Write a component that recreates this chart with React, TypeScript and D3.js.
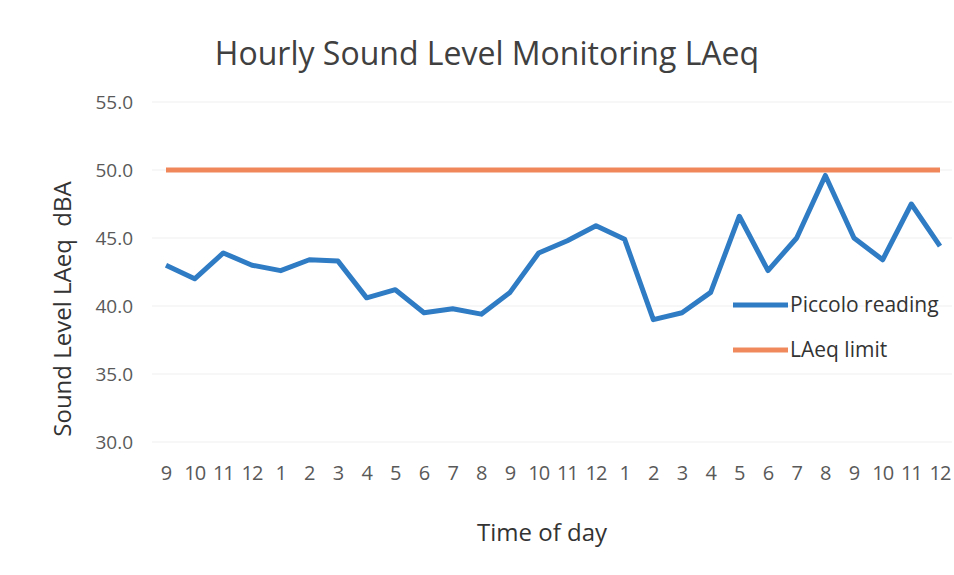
import React, { useRef, useEffect } from 'react';
import * as d3 from 'd3';

const hours = ['9', '10', '11', '12', '1', '2', '3', '4', '5', '6', '7', '8', '9', '10', '11', '12', '1', '2', '3', '4', '5', '6', '7', '8', '9', '10', '11', '12'];
const piccolo = [43.0, 42.0, 43.9, 43.0, 42.6, 43.4, 43.3, 40.6, 41.2, 39.5, 39.8, 39.4, 41.0, 43.9, 44.8, 45.9, 44.9, 39.0, 39.5, 41.0, 46.6, 42.6, 45.0, 49.6, 45.0, 43.4, 47.5, 44.4];
const limit = hours.map(() => 50);
const yTicks = [30, 35, 40, 45, 50, 55];

const W = 954;
const H = 575;

const App: React.FC = () => {
  const svgRef = useRef<SVGSVGElement | null>(null);

  useEffect(() => {
    const svg = d3.select(svgRef.current);
    svg.selectAll('*').remove();
    const font = '"Open Sans", sans-serif';

    const x = d3.scalePoint<number>()
      .domain(hours.map((_, i) => i))
      .range([166, 940]);
    const y = d3.scaleLinear().domain([30, 55]).range([442, 102]);

    // grid
    svg.append('g')
      .selectAll('line')
      .data(yTicks)
      .enter()
      .append('line')
      .attr('x1', 152)
      .attr('x2', 952)
      .attr('y1', d => y(d))
      .attr('y2', d => y(d))
      .attr('stroke', '#efefef')
      .attr('stroke-width', 1);

    // y labels
    svg.append('g')
      .selectAll('text')
      .data(yTicks)
      .enter()
      .append('text')
      .attr('x', 133)
      .attr('y', d => y(d))
      .attr('dy', '0.35em')
      .attr('text-anchor', 'end')
      .attr('font-family', font)
      .attr('font-size', 19)
      .attr('fill', '#595959')
      .text(d => d.toFixed(1));

    // x labels
    svg.append('g')
      .selectAll('text')
      .data(hours)
      .enter()
      .append('text')
      .attr('x', (_, i) => x(i)!)
      .attr('y', 473)
      .attr('dy', '0.35em')
      .attr('text-anchor', 'middle')
      .attr('font-family', font)
      .attr('font-size', 20)
      .attr('letter-spacing', -1)
      .attr('fill', '#595959')
      .text(d => d);

    const line = d3.line<number>()
      .x((_, i) => x(i)!)
      .y(d => y(d));

    svg.append('path')
      .datum(limit)
      .attr('d', line)
      .attr('fill', 'none')
      .attr('stroke', '#f0875a')
      .attr('stroke-width', 5);

    svg.append('path')
      .datum(piccolo)
      .attr('d', line)
      .attr('fill', 'none')
      .attr('stroke', '#2f7bc4')
      .attr('stroke-width', 5)
      .attr('stroke-linejoin', 'round');

    // legend
    const legend = [
      { name: 'Piccolo reading', color: '#2f7bc4', y: 305 },
      { name: 'LAeq limit', color: '#f08a5d', y: 350 },
    ];
    const lg = svg.append('g');
    legend.forEach(l => {
      lg.append('line')
        .attr('x1', 733).attr('x2', 788)
        .attr('y1', l.y).attr('y2', l.y)
        .attr('stroke', l.color)
        .attr('stroke-width', 5);
      lg.append('text')
        .attr('x', 790)
        .attr('y', l.y)
        .attr('dy', '0.35em')
        .attr('font-family', font)
        .attr('font-size', 21)
        .attr('fill', '#333')
        .text(l.name);
    });

    // titles
    svg.append('text')
      .attr('x', 487)
      .attr('y', 54)
      .attr('dy', '0.35em')
      .attr('text-anchor', 'middle')
      .attr('font-family', font)
      .attr('font-size', 32)
      .attr('fill', '#404040')
      .text('Hourly Sound Level Monitoring LAeq');

    svg.append('text')
      .attr('transform', 'translate(63,309) rotate(-90)')
      .attr('dy', '0.35em')
      .attr('text-anchor', 'middle')
      .attr('font-family', font)
      .attr('font-size', 24)
      .attr('fill', '#333')
      .style('white-space', 'pre')
      .text('Sound Level LAeq  dBA');

    svg.append('text')
      .attr('x', 542)
      .attr('y', 533)
      .attr('dy', '0.35em')
      .attr('text-anchor', 'middle')
      .attr('font-family', font)
      .attr('font-size', 24)
      .attr('fill', '#333')
      .text('Time of day');
  }, []);

  return (
    <svg
      ref={svgRef}
      width={W}
      height={H}
      style={{ position: 'absolute', left: 0, top: 0, background: '#fff' }}
    />
  );
};

export default App;
